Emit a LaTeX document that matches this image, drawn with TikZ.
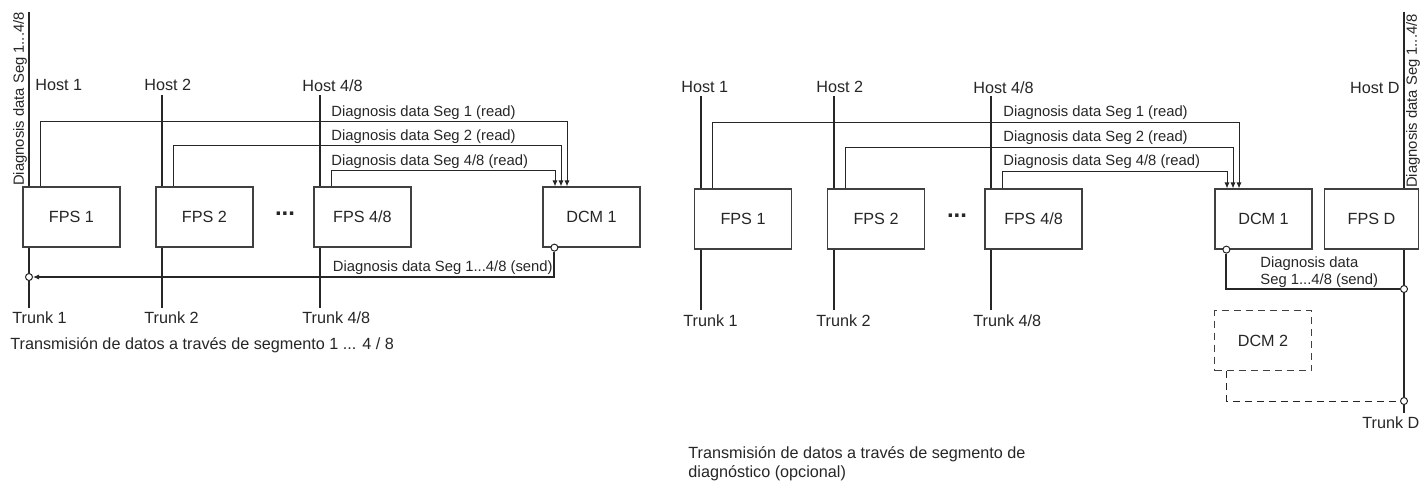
\documentclass[tikz,border=0pt]{standalone}
\usepackage{fontspec}
\setmainfont{Liberation Sans}
\usepackage{tikz}
\usetikzlibrary{arrows.meta}

\begin{document}
\begin{tikzpicture}[x=0.5pt, y=-0.5pt,
    every node/.style={font=\fontsize{8.1}{9.4}\selectfont, text=black!85},
    unit/.style={draw=black!75, line width=0.6pt, fill=white, minimum width=48.5pt, minimum height=30pt, inner sep=0pt},
    bus/.style={line width=1pt, draw=black!85},
    wire/.style={line width=0.5pt, draw=black!85},
    tip/.style={-{Latex[length=3pt, width=2.6pt]}},
    tag/.style={inner sep=0pt, anchor=west},
    small/.style={inner sep=0pt, font=\fontsize{7.4}{8.6}\selectfont},
    more/.style={inner sep=0pt, font=\fontsize{12}{12}\selectfont\bfseries},
    port/.style={circle, draw=black!85, fill=white, line width=0.5pt, inner sep=0pt, minimum size=3.5pt}]
\useasboundingbox (0,0) rectangle (1422,483);

% left: segments 1 ... 4/8
\node[unit] (fpsA) at (71.5,217) {FPS 1};
\node[unit] (fpsB) at (204.5,217) {FPS 2};
\node[unit] (fpsC) at (362.5,217) {FPS 4/8};
\node[unit] (dcmA) at (591.5,217) {DCM 1};
\node[more] (dotsA) at (285,214) {...};

\node[tag] (hostA1) at (35,85) {Host 1};
\node[tag] (hostA2) at (144,85) {Host 2};
\node[tag] (hostA3) at (302,86) {Host 4/8};
\node[tag] (trunkA1) at (12,318) {Trunk 1};
\node[tag] (trunkA2) at (144,318) {Trunk 2};
\node[tag] (trunkA3) at (302,318) {Trunk 4/8};
\node[small, rotate=90] (segA) at (20,99) {Diagnosis data Seg 1...4/8};

\coordinate (topA1) at (29,12);   \coordinate (endA1) at (29,308);
\coordinate (topA2) at (162,95);  \coordinate (endA2) at (162,308);
\coordinate (topA3) at (320,95);  \coordinate (endA3) at (320,308);
\draw[bus] (topA1) -- (topA1 |- fpsA.north);
\draw[bus] (fpsA.south -| topA1) -- (endA1);
\draw[bus] (topA2) -- (topA2 |- fpsB.north);
\draw[bus] (fpsB.south -| topA2) -- (endA2);
\draw[bus] (topA3) -- (topA3 |- fpsC.north);
\draw[bus] (fpsC.south -| topA3) -- (endA3);

% read
\coordinate (lvA1) at (567,121);
\coordinate (lvA2) at (561,145);
\coordinate (lvA3) at (555,170);
\draw[wire, tip] ([xshift=9pt]fpsA.north west) |- (lvA1) -- (lvA1 |- dcmA.north);
\draw[wire, tip] ([xshift=9pt]fpsB.north west) |- (lvA2) -- (lvA2 |- dcmA.north);
\draw[wire, tip] ([xshift=9pt]fpsC.north west) |- (lvA3) -- (lvA3 |- dcmA.north);
\node[small, tag] (readA1) at (331,113) {Diagnosis data Seg 1 (read)};
\node[small, tag] (readA2) at (331,137) {Diagnosis data Seg 2 (read)};
\node[small, tag] (readA3) at (331,162) {Diagnosis data Seg 4/8 (read)};

% send
\node[port] (outA) at ([xshift=6pt]dcmA.south west) {};
\node[port] (inA) at (29,277) {};
\draw[bus, tip] (outA) |- (inA);
\node[small, anchor=east] (sendA) at (553,268) {Diagnosis data Seg 1...4/8 (send)};

\node[tag] (capA) at (10,345) {Transmisión de datos a través de segmento 1 ... 4 / 8};

% right: diagnosis segment
\node[unit] (fpsE) at (743,219) {FPS 1};
\node[unit] (fpsF) at (876,219) {FPS 2};
\node[unit] (fpsG) at (1033.5,219) {FPS 4/8};
\node[unit] (dcmB) at (1263.5,219) {DCM 1};
\node[unit, minimum width=47pt] (fpsD) at (1371.5,219) {FPS D};
\node[unit, dashed, dash pattern=on 3.5pt off 2.5pt] (dcmC) at (1263,340.5) {DCM 2};
\node[more] (dotsB) at (957,216) {...};

\node[tag] (hostE1) at (681,87) {Host 1};
\node[tag] (hostE2) at (816,87) {Host 2};
\node[tag] (hostE3) at (973,88) {Host 4/8};
\node[tag, anchor=east] (hostD) at (1400,88) {Host D};
\node[tag] (trunkE1) at (683,321) {Trunk 1};
\node[tag] (trunkE2) at (816,321) {Trunk 2};
\node[tag] (trunkE3) at (973,321) {Trunk 4/8};
\node[tag] (trunkD) at (1362,423) {Trunk D};
\node[small, rotate=90] (segD) at (1413,101) {Diagnosis data Seg 1...4/8};

\coordinate (topE1) at (701,96);  \coordinate (endE1) at (701,310);
\coordinate (topE2) at (834,96);  \coordinate (endE2) at (834,310);
\coordinate (topE3) at (991,96);  \coordinate (endE3) at (991,310);
\coordinate (topD) at (1404,12);  \coordinate (endD) at (1404,413);
\draw[bus] (topE1) -- (topE1 |- fpsE.north);
\draw[bus] (fpsE.south -| topE1) -- (endE1);
\draw[bus] (topE2) -- (topE2 |- fpsF.north);
\draw[bus] (fpsF.south -| topE2) -- (endE2);
\draw[bus] (topE3) -- (topE3 |- fpsG.north);
\draw[bus] (fpsG.south -| topE3) -- (endE3);
\draw[bus] (topD) -- (topD |- fpsD.north);
\draw[bus] (fpsD.south -| topD) -- (endD);

% read
\coordinate (lvE1) at (1239,122);
\coordinate (lvE2) at (1233,147);
\coordinate (lvE3) at (1227,171);
\draw[wire, tip] ([xshift=9.5pt]fpsE.north west) |- (lvE1) -- (lvE1 |- dcmB.north);
\draw[wire, tip] ([xshift=9.5pt]fpsF.north west) |- (lvE2) -- (lvE2 |- dcmB.north);
\draw[wire, tip] ([xshift=9pt]fpsG.north west) |- (lvE3) -- (lvE3 |- dcmB.north);
\node[small, tag] (readE1) at (1003,113) {Diagnosis data Seg 1 (read)};
\node[small, tag] (readE2) at (1003,138) {Diagnosis data Seg 2 (read)};
\node[small, tag] (readE3) at (1003,162) {Diagnosis data Seg 4/8 (read)};

% send
\node[port] (outB) at ([xshift=6pt]dcmB.south west) {};
\node[port] (joinD) at (1404,289) {};
\node[port] (spareD) at (1404,401) {};
\draw[bus] (outB) |- (joinD);
\draw[wire, dashed, dash pattern=on 3.5pt off 2.5pt] ([xshift=6.5pt]dcmC.south west) |- (spareD);
\node[small, anchor=north west, align=left] (sendB) at (1260,256) {Diagnosis data\\Seg 1...4/8 (send)};

\node[tag, anchor=north west, align=left] (capB) at (688,446) {Transmisión de datos a través de segmento de\\diagnóstico (opcional)};
\end{tikzpicture}
\end{document}
